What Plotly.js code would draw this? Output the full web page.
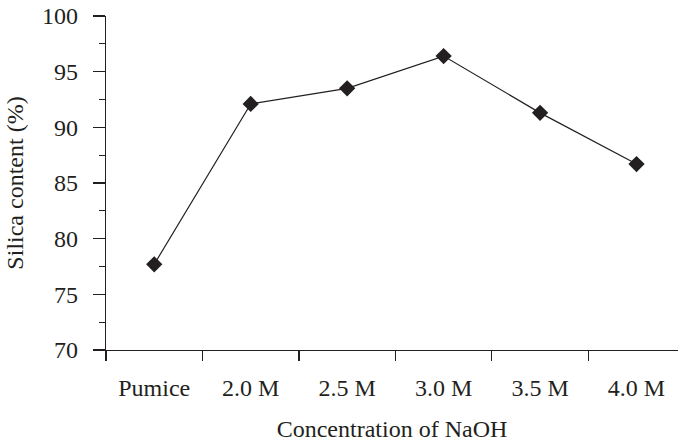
<!DOCTYPE html>
<html>
<head>
<meta charset="utf-8">
<script src="https://cdn.plot.ly/plotly-3.0.1.min.js"></script>
<style>html,body{margin:0;padding:0;background:#fff;}#chart{width:678px;height:442px;}</style>
</head>
<body>
<div id="chart"></div>
<script>
const categories = ["Pumice", "2.0 M", "2.5 M", "3.0 M", "3.5 M", "4.0 M"];
const silicaContent = [77.7, 92.1, 93.5, 96.4, 91.3, 86.7];
const yTicks = [70, 75, 80, 85, 90, 95, 100];

const font = "Liberation Serif";
const trace = {
  x: categories,
  y: silicaContent,
  type: "scatter",
  mode: "lines+markers",
  line: {color: "#231f20", width: 1.2},
  marker: {symbol: "diamond", size: 12.5, color: "#231f20"},
  cliponaxis: false,
  hoverinfo: "skip"
};
const layout = {
  width: 678, height: 442,
  margin: {l: 106, r: 0, t: 16, b: 92},
  paper_bgcolor: "#fff", plot_bgcolor: "#fff",
  showlegend: false,
  font: {family: font, size: 24, color: "#231f20"},
  xaxis: {
    type: "category",
    range: [-0.5, 5.43],
    showline: true, linecolor: "#231f20", linewidth: 1.2,
    ticks: "outside", tickson: "boundaries", ticklen: 10, tickwidth: 1.2, tickcolor: "#231f20",
    showgrid: false, zeroline: false,
    tickfont: {family: font, size: 24},
    ticklabelstandoff: 16,
    title: {text: "Concentration of NaOH", font: {family: font, size: 24}, standoff: 20}
  },
  yaxis: {
    range: [70, 100],
    tickvals: yTicks,
    showline: true, linecolor: "#231f20", linewidth: 1.2,
    ticks: "outside", ticklen: 12, tickwidth: 1.2, tickcolor: "#231f20",
    minor: {ticks: "outside", ticklen: 6, dtick: 2.5, tickwidth: 1.2, tickcolor: "#231f20", showgrid: false},
    showgrid: false, zeroline: false,
    tickfont: {family: font, size: 24},
    ticklabelstandoff: 10,
    title: {text: "Silica content (%)", font: {family: font, size: 24}, standoff: 11}
  }
};
Plotly.newPlot("chart", [trace], layout, {staticPlot: true, displayModeBar: false});
</script>
</body>
</html>
